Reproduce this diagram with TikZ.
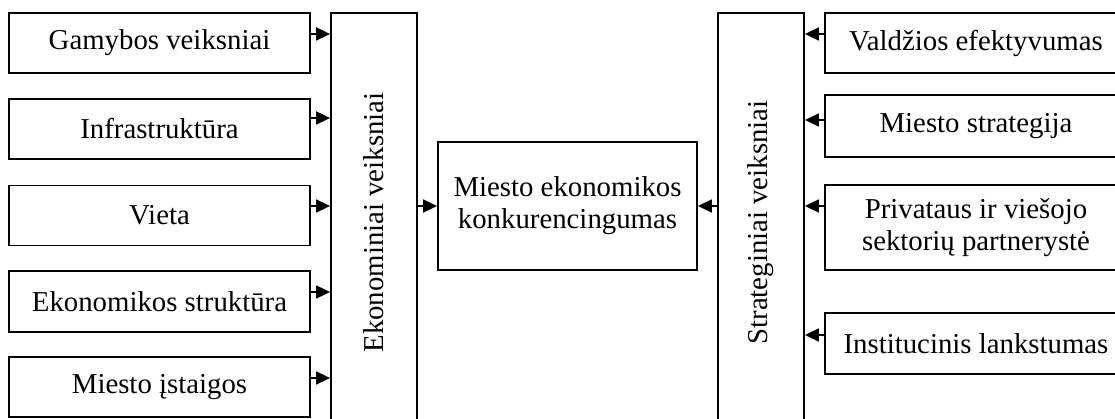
\documentclass[tikz,border=0pt]{standalone}
\usepackage{fontspec}
\setmainfont{Liberation Serif}
\usepackage{graphicx}
\usetikzlibrary{arrows.meta}
\begin{document}
\begin{tikzpicture}[x=1pt,y=-1pt,
  box/.style={draw, line width=1.8pt, inner sep=0pt, align=center, font=\fontsize{28.8}{32}\selectfont},
  sbox/.style={box, minimum width=301pt, minimum height=60pt},
  tall/.style={box, minimum width=86pt, minimum height=419pt},
  arr/.style={line width=1.8pt, -{Triangle[length=14pt,width=13pt]}}]
\useasboundingbox (0,0) rectangle (1115,419);
\clip (0,0) rectangle (1115,419);
% left boxes
\node[sbox] (b1) at (159.5,43) {Gamybos veiksniai};
\node[sbox] (b2) at (159.5,129) {Infrastruktūra};
\node[sbox] (b3) at (159.5,215.5) {Vieta};
\node[sbox, minimum height=61pt] (b4) at (159.5,301.5) {Ekonomikos struktūra};
\node[sbox] (b5) at (159.5,387) {Miesto įstaigos};
% tall boxes
\node[tall] (ek) at (374,222.5) {\rotatebox{90}{Ekonominiai veiksniai}};
\node[tall] (st) at (761,222.5) {\rotatebox{90}{Strateginiai veiksniai}};
% center
\node[box, minimum width=259pt, minimum height=128pt] (cb) at (567.5,206) {Miesto ekonomikos\\konkurencingumas};
% right boxes
\node[box, minimum width=302pt, minimum height=60pt] (r1) at (976,43) {Valdžios efektyvumas};
\node[box, minimum width=302pt, minimum height=62pt] (r2) at (976,126) {Miesto strategija};
\node[box, minimum width=302pt, minimum height=85pt] (r3) at (976,227.5) {Privataus ir viešojo\\sektorių partnerystė};
\node[box, minimum width=302pt, minimum height=61pt] (r4) at (976,343.5) {Institucinis lankstumas};
% left arrows
\draw[arr] ([yshift=9pt]b1.east) coordinate (t1) -- (t1 -| ek.west);
\draw[arr] ([yshift=11pt]b2.east) coordinate (t2) -- (t2 -| ek.west);
\draw[arr] ([yshift=9.5pt]b3.east) coordinate (t3) -- (t3 -| ek.west);
\draw[arr] ([yshift=9.5pt]b4.east) coordinate (t4) -- (t4 -| ek.west);
\draw[arr] ([yshift=9pt]b5.east) coordinate (t5) -- (t5 -| ek.west);
% center arrows
\draw[arr] (ek.east |- cb.west) -- (cb.west);
\draw[arr] (st.west |- cb.east) -- (cb.east);
% right arrows
\draw[arr] ([yshift=9pt]r1.west) coordinate (s1) -- (s1 -| st.east);
\draw[arr] ([yshift=6pt]r2.west) coordinate (s2) -- (s2 -| st.east);
\draw[arr] ([yshift=21.5pt]r3.west) coordinate (s3) -- (s3 -| st.east);
\draw[arr] ([yshift=8.5pt]r4.west) coordinate (s4) -- (s4 -| st.east);
\end{tikzpicture}
\end{document}
